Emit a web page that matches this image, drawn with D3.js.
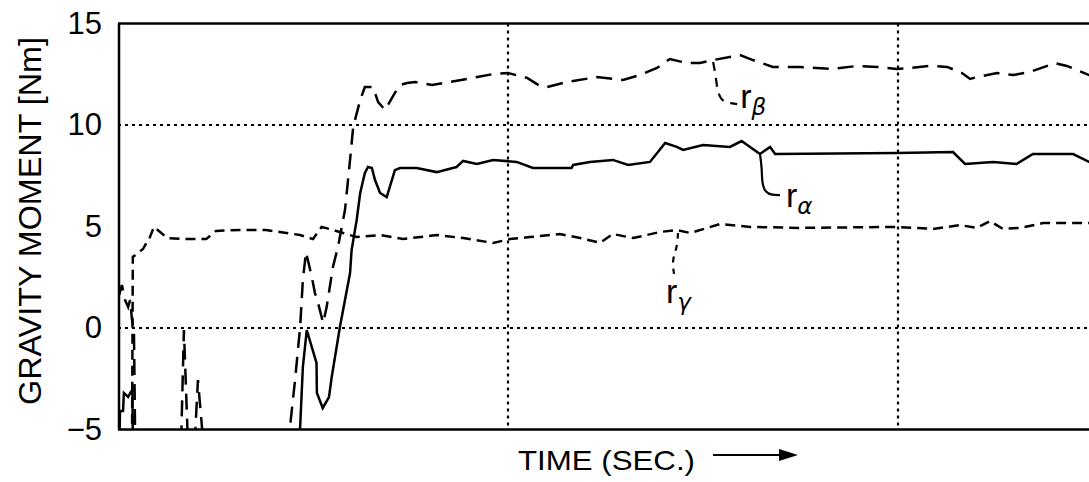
<!DOCTYPE html>
<html lang="en">
<head>
<meta charset="UTF-8">
<title>Gravity moment</title>
<style>
  body { margin: 0; background: #fff; }
  svg { font-family: "Liberation Sans", Arial, sans-serif; }
  .axis path, .axis line { stroke: none; }
  .axis text { font-size: 31px; fill: #000; }
  .grid { stroke: #000; stroke-width: 2.2; stroke-dasharray: 3,4; }
  .frame { stroke: #000; stroke-width: 2.5; }
</style>
</head>
<body>
<div id="chart"></div>
<script src="https://d3js.org/d3.v7.min.js"></script>
<script>
// time in grid steps (one dotted line = 1), moment in Nm
const alphaTime = [0.004, 0.005, 0.013, 0.015, 0.026, 0.033, 0.037, 0.038, 0.462, 0.467, 0.474, 0.484, 0.509, 0.510,
  0.525, 0.541, 0.548, 0.569, 0.595, 0.599, 0.612, 0.621, 0.633, 0.641, 0.651, 0.659, 0.672, 0.689, 0.710, 0.723,
  0.766, 0.817, 0.868, 0.885, 0.920, 0.962, 1.022, 1.064, 1.163, 1.167, 1.210, 1.269, 1.308, 1.364, 1.403, 1.433,
  1.449, 1.500, 1.569, 1.599, 1.646, 1.672, 1.685, 1.997, 2.141, 2.172, 2.244, 2.304, 2.346, 2.449, 2.490, 2.518];
const alphaValue = [-5.5, -4.09, -4.09, -3.20, -3.40, -3.15, -3.05, -5.5, -5.5, -4.88, -1.92, -0.10, -1.72, -3.20,
  -3.94, -3.40, -2.41, 0.05, 2.71, 3.84, 5.32, 6.65, 7.64, 7.93, 7.88, 7.29, 6.65, 6.45, 7.78, 7.88,
  7.88, 7.68, 7.93, 8.23, 8.08, 8.28, 8.18, 7.88, 7.88, 8.03, 8.18, 8.28, 8.03, 8.18, 9.11, 8.92,
  8.77, 9.01, 8.92, 9.21, 8.57, 8.92, 8.57, 8.62, 8.67, 8.08, 8.18, 8.08, 8.57, 8.57, 8.18, 7.98];

const betaTime = [0.003, 0.010, 0.018, 0.026, 0.031, 0.036, 0.041, 0.044, 0.162, 0.169, 0.179, 0.197, 0.205, 0.218,
  0.436, 0.441, 0.454, 0.467, 0.474, 0.482, 0.497, 0.505, 0.513, 0.526, 0.535, 0.551, 0.564, 0.582, 0.595, 0.603,
  0.621, 0.633, 0.654, 0.667, 0.685, 0.710, 0.723, 0.741, 0.762, 0.805, 0.851, 0.921, 0.962, 1.000, 1.049, 1.082,
  1.100, 1.151, 1.228, 1.295, 1.338, 1.382, 1.415, 1.459, 1.492, 1.526, 1.595, 1.628, 1.679, 1.749, 1.833, 1.895,
  1.946, 1.997, 2.031, 2.082, 2.126, 2.164, 2.185, 2.203, 2.254, 2.295, 2.338, 2.403, 2.433, 2.490, 2.518];
const betaValue = [1.63, 2.12, 1.38, 1.03, 1.38, 0.39, -0.34, -5.5, -5.5, -0.10, -5.5, -5.5, -2.56, -5.5,
  -5.5, -4.88, -2.56, 0.05, 2.36, 3.74, 2.51, 1.72, 1.23, 0.25, 1.03, 3.00, 3.99, 5.81, 8.28, 9.90,
  11.23, 11.87, 11.87, 11.13, 10.74, 11.58, 11.97, 12.07, 12.12, 11.97, 12.12, 12.36, 12.51, 12.56, 12.32, 11.92,
  11.87, 12.12, 12.36, 12.22, 12.46, 12.81, 13.25, 13.05, 13.05, 13.20, 13.45, 13.20, 12.86, 12.86, 12.76, 12.91,
  12.86, 12.76, 12.81, 12.91, 12.86, 12.56, 12.27, 12.36, 12.56, 12.46, 12.61, 13.05, 12.91, 12.46, 12.32];

const gammaTime = [0.036, 0.038, 0.064, 0.082, 0.092, 0.108, 0.126, 0.172, 0.226, 0.251, 0.313, 0.379, 0.415, 0.467,
  0.500, 0.522, 0.551, 0.577, 0.612, 0.672, 0.731, 0.817, 0.885, 0.962, 1.005, 1.056, 1.133, 1.185, 1.236, 1.269,
  1.321, 1.390, 1.433, 1.467, 1.544, 1.621, 1.749, 1.995, 2.090, 2.159, 2.202, 2.236, 2.269, 2.313, 2.372, 2.490, 2.518];
const gammaValue = [-5.5, 3.50, 3.89, 4.48, 4.98, 4.73, 4.43, 4.38, 4.38, 4.78, 4.83, 4.83, 4.73, 4.58,
  4.38, 4.98, 4.83, 4.68, 4.48, 4.58, 4.38, 4.58, 4.43, 4.19, 4.38, 4.48, 4.63, 4.43, 4.20, 4.63,
  4.43, 4.73, 4.83, 4.68, 5.12, 4.98, 4.93, 4.98, 4.88, 5.07, 4.93, 5.27, 4.88, 4.93, 5.17, 5.17, 5.12];

const yTicks = [-5, 0, 5, 10, 15];
const yGrid = [0, 10];
const xGrid = [1, 2];

const width = 1089, height = 482;

const x = d3.scaleLinear().domain([0, 3]).range([118, 118 + 390 * 3]);
const y = d3.scaleLinear().domain([-5, 15]).range([429.5, 23.5]);

const svg = d3.select('#chart').append('svg')
  .attr('width', width)
  .attr('height', height);

svg.append('defs').append('clipPath').attr('id', 'plot')
  .append('rect')
  .attr('x', x(0) + 1).attr('y', y(15))
  .attr('width', width).attr('height', y(-5) - y(15));

// dotted grid
svg.selectAll('line.hgrid').data(yGrid).enter().append('line')
  .attr('class', 'grid')
  .attr('x1', x(0)).attr('x2', width)
  .attr('y1', d => y(d)).attr('y2', d => y(d));

svg.selectAll('line.vgrid').data(xGrid).enter().append('line')
  .attr('class', 'grid')
  .attr('x1', d => x(d)).attr('x2', d => x(d))
  .attr('y1', y(15)).attr('y2', y(-5));

// series
const line = d3.line().x(d => x(d[0])).y(d => y(d[1]));
const series = [
  { name: 'alpha', data: d3.zip(alphaTime, alphaValue), dash: null, w: 2.5 },
  { name: 'beta', data: d3.zip(betaTime, betaValue), dash: '16,9', w: 2.5 },
  { name: 'gamma', data: d3.zip(gammaTime, gammaValue), dash: '10,6', w: 2.5 }
];

svg.append('g').attr('clip-path', 'url(#plot)')
  .selectAll('path').data(series).enter().append('path')
  .attr('d', d => line(d.data))
  .attr('fill', 'none')
  .attr('stroke', '#000')
  .attr('stroke-width', d => d.w)
  .attr('stroke-dasharray', d => d.dash);

// frame (left, top, bottom)
svg.append('line').attr('class', 'frame')
  .attr('x1', x(0) + 1).attr('x2', x(0) + 1).attr('y1', y(15)).attr('y2', y(-5));
svg.append('line').attr('class', 'frame')
  .attr('x1', x(0)).attr('x2', width).attr('y1', y(15)).attr('y2', y(15));
svg.append('line').attr('class', 'frame')
  .attr('x1', x(0)).attr('x2', width).attr('y1', y(-5)).attr('y2', y(-5));

// y axis labels
svg.append('g')
  .attr('class', 'axis')
  .attr('transform', `translate(${x(0)},0)`)
  .call(d3.axisLeft(y).tickValues(yTicks).tickSize(0).tickPadding(16))
  .call(g => g.select('.domain').remove())
  .selectAll('text').attr('font-family', '"Liberation Sans", Arial, sans-serif');

svg.append('text')
  .attr('transform', 'translate(41,221) rotate(-90)')
  .attr('text-anchor', 'middle')
  .attr('font-size', 31)
  .attr('textLength', 368)
  .attr('lengthAdjust', 'spacingAndGlyphs')
  .text('GRAVITY MOMENT [Nm]');

// x axis title with arrow
svg.append('text')
  .attr('x', 518).attr('y', 470)
  .attr('font-size', 28)
  .attr('textLength', 177)
  .attr('lengthAdjust', 'spacingAndGlyphs')
  .text('TIME (SEC.)');
const bx = 518 + 177;
svg.append('line')
  .attr('x1', bx + 18).attr('x2', bx + 88)
  .attr('y1', 455).attr('y2', 455)
  .attr('stroke', '#000').attr('stroke-width', 2);
svg.append('path')
  .attr('d', `M${bx + 103},455 L${bx + 84},449 L${bx + 84},461 Z`)
  .attr('fill', '#000');

// curve labels with leader lines
const notes = [
  { t: 1.526, v: 13.20, sub: 'β', dash: '9,7', lead: [[0, 2], [3, 18], [4, 30], [8, 40], [14, 43], [24, 44]], lx: 27, ly: 48 },
  { t: 1.646, v: 8.57, sub: 'α', dash: null, lead: [[0, 0], [2, 14], [2, 30], [6, 39], [12, 41], [20, 41]], lx: 26, ly: 53 },
  { t: 1.436, v: 4.83, sub: 'γ', dash: '6,6', lead: [[0, 3], [-1, 18], [-6, 30], [-4, 44]], lx: -12, ly: 73 }
];
const lead = d3.line().curve(d3.curveBasis);
notes.forEach(n => {
  const ax = x(n.t), ay = y(n.v);
  svg.append('path')
    .attr('d', lead(n.lead.map(p => [ax + p[0], ay + p[1]])))
    .attr('fill', 'none').attr('stroke', '#000').attr('stroke-width', 2.2)
    .attr('stroke-dasharray', n.dash);
  const t = svg.append('text')
    .attr('x', ax + n.lx).attr('y', ay + n.ly)
    .attr('font-size', 34);
  t.append('tspan').text('r');
  t.append('tspan')
    .attr('dy', 7)
    .attr('font-size', 23)
    .attr('font-style', 'italic')
    .attr('font-family', '"DejaVu Sans", sans-serif')
    .text(n.sub);
});
</script>
</body>
</html>
